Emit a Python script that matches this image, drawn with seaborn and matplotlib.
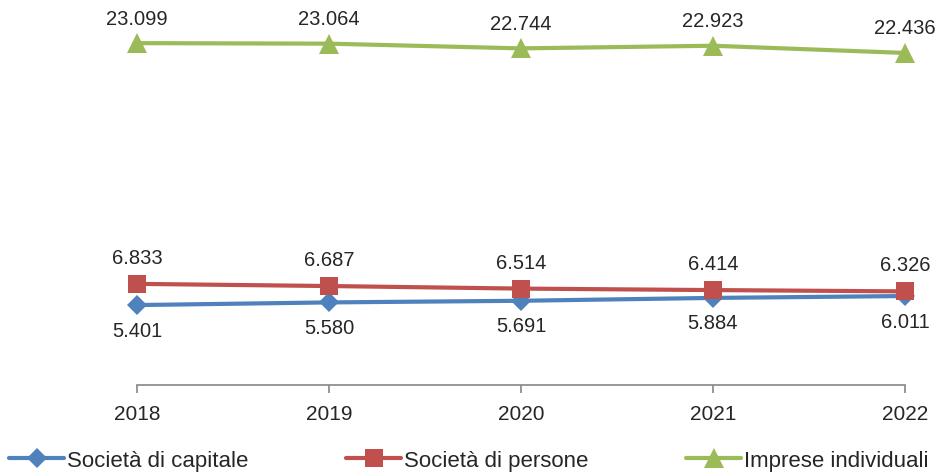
import matplotlib
matplotlib.use("Agg")
import matplotlib.pyplot as plt
import seaborn as sns
import pandas as pd

years = [2018, 2019, 2020, 2021, 2022]
capitale = [5401, 5580, 5691, 5884, 6011]
persone = [6833, 6687, 6514, 6414, 6326]
individuali = [23099, 23064, 22744, 22923, 22436]
series_names = ["Società di capitale", "Società di persone", "Imprese individuali"]

sns.set_style("white")
plt.rcParams['font.family'] = ['Liberation Sans', 'DejaVu Sans']

df = pd.DataFrame({
    'Anno': years * 3,
    'Valore': capitale + persone + individuali,
    'Serie': [series_names[0]] * 5 + [series_names[1]] * 5 + [series_names[2]] * 5,
})

palette = {
    "Società di capitale": "#4F81BD",
    "Società di persone": "#C0504D",
    "Imprese individuali": "#9BBB59",
}
markers = {"Società di capitale": "D", "Società di persone": "s", "Imprese individuali": "^"}
msizes = {"Società di capitale": 10, "Società di persone": 13.5, "Imprese individuali": 14}
# label offsets in points (above/below the point)
offsets = {"Società di capitale": -18, "Società di persone": 19, "Imprese individuali": 18}

fig = plt.figure(figsize=(9.38, 4.77), dpi=100)
ax = fig.add_axes([137 / 938, 1 - 386 / 477, (905 - 137) / 938, (386 - 16) / 477])

for name in series_names:
    sub = df[df['Serie'] == name]
    sns.lineplot(data=sub, x='Anno', y='Valore', ax=ax, color=palette[name],
                 marker=markers[name], markersize=msizes[name], markeredgewidth=0,
                 linewidth=3, label=name, clip_on=False)
    for x, v in zip(sub['Anno'], sub['Valore']):
        ax.annotate(f"{v:,}".replace(",", "."), (x, v), xytext=(0, offsets[name]),
                    textcoords="offset points", ha="center", va="center", fontsize=14.5)

ax.set_xlim(2018, 2022)
ax.set_ylim(0, 25000)
ax.set_xticks(years)
ax.set_xticklabels([str(y) for y in years], fontsize=15)
ax.set_yticks([])
ax.set_xlabel("")
ax.set_ylabel("")
for s in ["top", "right", "left"]:
    ax.spines[s].set_visible(False)
ax.spines["bottom"].set_color("#868686")
ax.spines["bottom"].set_linewidth(1.2)
ax.tick_params(axis="x", bottom=True, direction="out", length=6, color="#868686",
               width=1.2, pad=8)

ax.get_legend().remove()
handles, labels = ax.get_legend_handles_labels()
fig.legend(handles, labels, ncol=3, loc="center left", bbox_to_anchor=(0.0, 0.033),
           frameon=False, fontsize=16, handlelength=2.5, handletextpad=0.1,
           columnspacing=4.4, borderaxespad=0)

fig.savefig("out.png", dpi=100)
